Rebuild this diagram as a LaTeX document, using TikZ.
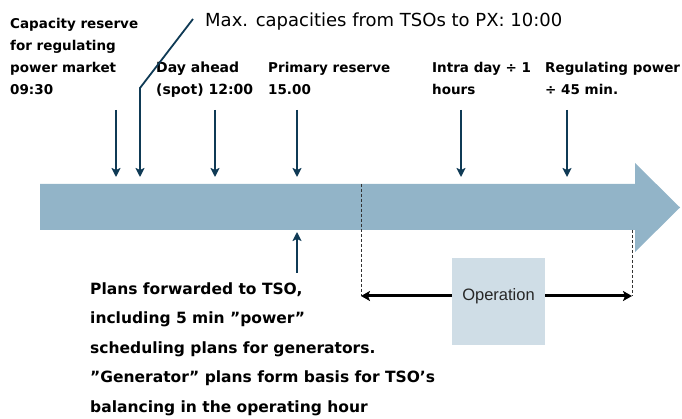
\documentclass[tikz,border=0pt]{standalone}
\usepackage{fontspec}
\setmainfont{DejaVu Sans}
\newfontfamily\opfont{Liberation Sans}
\usetikzlibrary{arrows.meta}
\definecolor{barblue}{HTML}{92B4C8}
\definecolor{boxblue}{HTML}{CFDDE6}
\definecolor{navy}{HTML}{0F3A55}
\tikzset{
  lbl/.style={anchor=base west, inner sep=0pt, align=left,
    font=\bfseries\fontsize{13.5}{22.3}\selectfont},
  lowtext/.style={anchor=base west, inner sep=0pt, align=left,
    font=\bfseries\fontsize{15.5}{29.5}\selectfont},
  tick/.style={draw=navy, line width=1.8pt, -{Stealth[length=9pt,width=9pt,inset=2pt]}},
  guide/.style={draw=black!80, densely dashed, line width=0.5pt},
  spanline/.style={draw=black, line width=3pt},
  spantip/.style={-{Stealth[length=9pt,width=10pt,inset=2pt]}},
}
\begin{document}
\begin{tikzpicture}[x=1pt,y=-1pt]
\useasboundingbox (0,0) rectangle (682,419);

% time axis arrow
\fill[barblue] (40,184) -- (635,184) -- (635,163) -- (680,207.5)
  -- (635,252) -- (635,230) -- (40,230) -- cycle;

% event labels above the axis (anchored at the last baseline)
\node[lbl] (cap) at (10,95) {Capacity reserve\\for regulating\\power market\\09:30};
\node[anchor=base west, inner sep=0pt, font=\fontsize{18}{22}\selectfont] (maxcap) at (205,27)
  {Max. capacities from TSOs to PX: 10:00};
\node[lbl, font=\bfseries\fontsize{14}{22.3}\selectfont] (spot) at (156,95) {Day ahead\\(spot) 12:00};
\node[lbl] (prim) at (268,95) {Primary reserve\\15.00};
\node[lbl] (intra) at (432,95) {Intra day ÷ 1\\hours};
\node[lbl] (regp) at (545,95) {Regulating power\\÷ 45 min.};

% arrow start and end points
\coordinate (capS) at (116,110);  \coordinate (capE) at (116,177);
\coordinate (maxS) at (193,19);   \coordinate (maxK) at (140,88);
\coordinate (maxE) at (140,177);
\coordinate (spotS) at (215,110); \coordinate (spotE) at (215,177);
\coordinate (primS) at (297,110); \coordinate (primE) at (297,177);
\coordinate (intraS) at (461,110); \coordinate (intraE) at (461,177);
\coordinate (regS) at (567,110);  \coordinate (regE) at (567,177);

\draw[tick] (capS) -- (capE);
\draw[tick] (maxS) -- (maxK) -- (maxE);
\draw[tick] (spotS) -- (spotE);
\draw[tick] (primS) -- (primE);
\draw[tick] (intraS) -- (intraE);
\draw[tick] (regS) -- (regE);

% plans forwarded to the TSO
\coordinate (planS) at (297,273);
\coordinate (planE) at (297,232);
\draw[tick] (planS) -- (planE);
\node[lowtext] (plans) at (90,412) {Plans forwarded to TSO,\\including 5 min ”power”\\scheduling plans for generators.\\”Generator” plans form basis for TSO’s\\balancing in the operating hour};

% operation period
\node[fill=boxblue, minimum width=93pt, minimum height=87pt, inner sep=0pt,
  anchor=north west] (opbox) at (452,258) {};
\node[font=\opfont\fontsize{16.5}{18}\selectfont, text=black!85] (optext) at (498.5,296) {Operation};
\coordinate (opL) at (361,296);
\coordinate (opR) at (632,296);
\coordinate (opLtop) at (361,184);
\coordinate (opRtop) at (632,230);
\draw[guide] (opLtop) -- (opL);
\draw[guide] (opRtop) -- (opR);
\draw[spanline, spantip] (opbox.west |- opL) -- (opL);
\draw[spanline, spantip] (opbox.east |- opR) -- (opR);
\end{tikzpicture}
\end{document}
